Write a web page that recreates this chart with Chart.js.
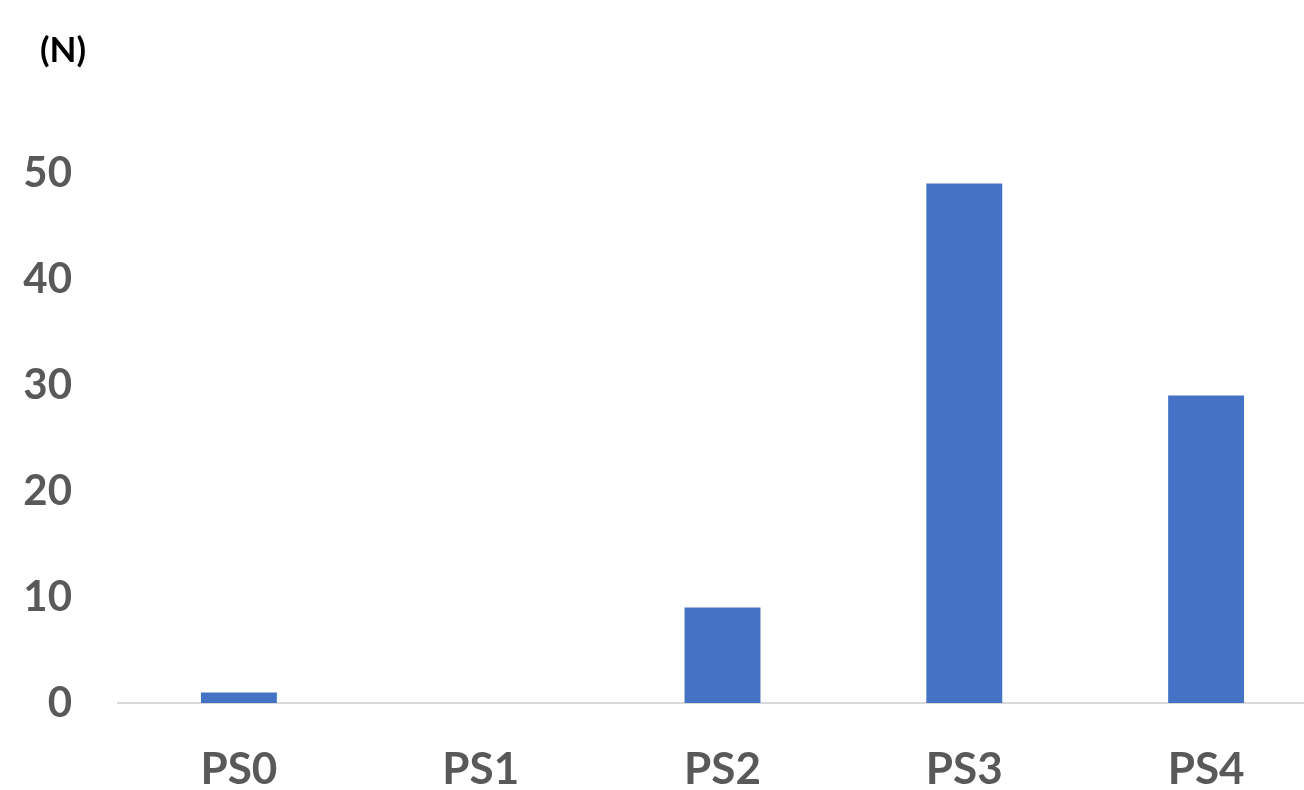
<!DOCTYPE html>
<html>
<head>
<meta charset="utf-8">
<script src="https://cdn.jsdelivr.net/npm/chart.js@4"></script>
<style>
  html, body { margin: 0; padding: 0; background: #fff; overflow: hidden; }
  #wrap { position: relative; width: 1304px; height: 790px; overflow: hidden; }
  #unit { position: absolute; left: 40px; top: 24px; font: bold 35px Lato, sans-serif; color: #000; line-height: 48px; }
</style>
</head>
<body>
<div id="wrap">
  <canvas id="chart" width="1330" height="790"></canvas>
  <div id="unit">(N)</div>
</div>
<script>
const categories = ['PS0', 'PS1', 'PS2', 'PS3', 'PS4'];
const counts = [1, 0, 9, 49, 29];
const yTicks = [0, 10, 20, 30, 40, 50];

const ctx = document.getElementById('chart').getContext('2d');
new Chart(ctx, {
    type: 'bar',
    data: {
        labels: categories,
        datasets: [{
            data: counts,
            backgroundColor: '#4472c4',
            borderWidth: 0,
            barPercentage: 0.314,
            categoryPercentage: 1
        }]
    },
    options: {
        responsive: false,
        animation: false,
        layout: { padding: { top: 120, right: 3, left: 0, bottom: 0 } },
        plugins: { legend: { display: false }, tooltip: { enabled: false } },
        scales: {
            x: {
                grid: { display: false, drawTicks: false },
                border: { display: true, color: '#d9d9d9', width: 2 },
                ticks: {
                    color: '#595959',
                    font: { family: 'Lato', size: 44, weight: 'bold' },
                    padding: 40,
                    maxRotation: 0
                },
                afterFit: (axis) => { axis.height = 87; }
            },
            y: {
                min: 0,
                max: 55,
                grid: { display: false, drawTicks: false },
                border: { display: false },
                ticks: {
                    color: '#595959',
                    font: { family: 'Lato', size: 42, weight: 'bold' },
                    padding: 46
                },
                afterBuildTicks: (axis) => { axis.ticks = yTicks.map(v => ({ value: v })); },
                afterFit: (axis) => { axis.width = 118; }
            }
        }
    }
});
</script>
</body>
</html>
